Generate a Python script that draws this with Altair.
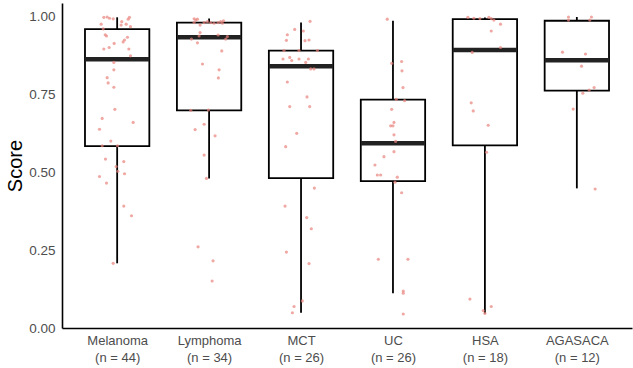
import altair as alt
import pandas as pd

# Tumour groups and their sample counts
groups = ["Melanoma", "Lymphoma", "MCT", "UC", "HSA", "AGASACA"]
counts = [44, 34, 26, 26, 18, 12]

# Box-plot summary per group
q1 = [0.585, 0.700, 0.482, 0.472, 0.587, 0.763]
median = [0.864, 0.935, 0.842, 0.594, 0.894, 0.861]
q3 = [0.961, 0.982, 0.892, 0.734, 0.993, 0.988]
whisker_lo = [0.208, 0.481, 0.049, 0.112, 0.047, 0.449]
whisker_hi = [0.999, 0.995, 0.982, 0.988, 0.998, 1.000]

# Individual scores per group, with their horizontal jitter (in category units)
melanoma_scores = [0.999, 1.000, 0.996, 0.994, 0.977, 0.962, 0.974, 0.977, 0.999, 0.993,
                   0.969, 0.943, 0.939, 0.926, 0.935, 0.897, 0.902, 0.915, 0.920, 0.897,
                   0.875, 0.854, 0.830, 0.805, 0.788, 0.774, 0.703, 0.674, 0.661, 0.639,
                   0.601, 0.586, 0.586, 0.543, 0.535, 0.519, 0.504, 0.496, 0.487, 0.466,
                   0.392, 0.361, 0.208, 0.985]
melanoma_jitter = [-0.145, -0.109, -0.083, -0.043, -0.174, -0.152, 0.043, 0.098, 0.134, 0.120,
                   0.145, -0.130, -0.116, 0.080, 0.112, -0.145, -0.087, -0.033, 0.065, 0.127,
                   0.145, -0.036, -0.036, -0.109, -0.098, -0.036, -0.025, -0.163, 0.174, -0.192,
                   -0.069, -0.163, 0.004, -0.127, 0.072, -0.011, 0.007, 0.080, -0.192, -0.116,
                   0.072, 0.156, -0.043, 0.050]

lymphoma_scores = [0.994, 0.990, 0.993, 0.982, 0.974, 0.982, 0.985, 0.982, 0.980, 0.982,
                   0.985, 0.988, 0.980, 0.950, 0.939, 0.942, 0.937, 0.929, 0.929, 0.917,
                   0.891, 0.849, 0.830, 0.804, 0.700, 0.701, 0.655, 0.638, 0.618, 0.556,
                   0.481, 0.261, 0.216, 0.151]
lymphoma_jitter = [-0.163, -0.145, -0.127, -0.163, -0.098, -0.054, -0.018, 0.018, 0.054, 0.098,
                   0.127, 0.156, 0.145, -0.098, -0.109, 0.098, 0.199, 0.181, -0.192, -0.127,
                   0.138, -0.072, 0.109, 0.101, -0.199, -0.007, -0.054, -0.152, 0.065, -0.054,
                   -0.029, -0.120, 0.043, 0.033]

mct_scores = [0.986, 0.960, 0.955, 0.943, 0.925, 0.924, 0.926, 0.892, 0.892, 0.892,
              0.870, 0.865, 0.860, 0.865, 0.865, 0.854, 0.833, 0.833, 0.791, 0.743,
              0.712, 0.712, 0.626, 0.583, 0.450, 0.392, 0.355, 0.319, 0.244, 0.207,
              0.087, 0.069, 0.049]
mct_jitter = [0.098, -0.069, 0.025, -0.149, -0.159, 0.043, 0.087, -0.185, -0.022, 0.178,
              -0.123, -0.196, -0.101, -0.022, 0.080, 0.051, 0.105, 0.141, -0.149, 0.065,
              -0.123, 0.094, -0.047, -0.167, 0.145, -0.174, 0.062, 0.112, -0.159, 0.087,
              0.014, -0.076, -0.094]

uc_scores = [0.993, 0.851, 0.857, 0.827, 0.773, 0.735, 0.731, 0.703, 0.661, 0.650,
             0.650, 0.621, 0.567, 0.551, 0.524, 0.492, 0.492, 0.485, 0.469, 0.435,
             0.221, 0.221, 0.119, 0.112, 0.045, 0.600]
uc_jitter = [-0.062, -0.014, 0.094, 0.098, 0.109, 0.036, 0.127, -0.014, 0.011, -0.025,
             0.000, 0.011, 0.011, -0.098, -0.196, -0.170, -0.134, 0.047, 0.022, 0.094,
             -0.159, 0.163, 0.112, 0.112, 0.112, 0.029]

hsa_scores = [0.999, 0.996, 0.995, 0.999, 0.995, 0.990, 0.977, 0.955, 0.902, 0.886,
              0.724, 0.698, 0.652, 0.565, 0.093, 0.069, 0.056, 0.047]
hsa_jitter = [-0.185, -0.120, -0.054, 0.043, 0.069, 0.098, 0.170, 0.069, 0.170, -0.138,
              -0.149, -0.127, 0.036, 0.018, -0.163, 0.069, -0.018, 0.000]

agasaca_scores = [1.000, 0.990, 1.000, 0.990, 0.887, 0.881, 0.842, 0.773, 0.765, 0.755,
                  0.704, 0.447]
agasaca_jitter = [-0.091, -0.091, 0.159, 0.141, -0.156, 0.094, 0.051, 0.188, 0.134, 0.065,
                  -0.040, 0.199]

scores = [melanoma_scores, lymphoma_scores, mct_scores, uc_scores, hsa_scores, agasaca_scores]
jitters = [melanoma_jitter, lymphoma_jitter, mct_jitter, uc_jitter, hsa_jitter, agasaca_jitter]

box_df = pd.DataFrame({
    "idx": list(range(1, len(groups) + 1)),
    "group": groups,
    "q1": q1, "median": median, "q3": q3,
    "lo": whisker_lo, "hi": whisker_hi,
})

rows = []
for i, (s, j) in enumerate(zip(scores, jitters), start=1):
    for v, d in zip(s, j):
        rows.append({"idx": i, "jit": d, "score": v})
pts_df = pd.DataFrame(rows)

label_lists = [[g, f"(n = {n})"] for g, n in zip(groups, counts)]
label_expr = str(label_lists).replace('"', "'") + "[datum.value - 1]"

x_scale = alt.Scale(domain=[0.4, 6.6], nice=False, zero=False)
y_scale = alt.Scale(domain=[0, 1.045], nice=False)

x_axis = alt.Axis(values=[1, 2, 3, 4, 5, 6], labelExpr=label_expr, title=None,
                  grid=False, ticks=False, labelPadding=6, labelLineHeight=17,
                  labelFontSize=13, labelColor="#4d4d4d", labelFont="Liberation Sans",
                  domainColor="black", domainWidth=1.6)
y_axis = alt.Axis(values=[0, 0.25, 0.5, 0.75, 1.0], format=".2f", title="Score",
                  grid=False, ticks=False, labelPadding=7,
                  labelFontSize=13.5, labelColor="#4d4d4d", labelFont="Liberation Sans",
                  titleFont="Liberation Sans", titleFontSize=20, titleFontWeight="normal",
                  titleColor="black", titlePadding=3,
                  domainColor="black", domainWidth=1.6)

base = alt.Chart(box_df)

whiskers = base.mark_rule(color="black", strokeWidth=1.8).encode(
    x=alt.X("idx:Q", scale=x_scale, axis=x_axis),
    y=alt.Y("lo:Q", scale=y_scale, axis=y_axis),
    y2="hi:Q",
)

boxes = base.transform_calculate(
    xl="datum.idx - 0.35", xr="datum.idx + 0.35"
).mark_rect(fill="white", stroke="black", strokeWidth=1.8).encode(
    x=alt.X("xl:Q", scale=x_scale),
    x2="xr:Q",
    y=alt.Y("q1:Q", scale=y_scale),
    y2="q3:Q",
)

medians = base.transform_calculate(
    xl="datum.idx - 0.35", xr="datum.idx + 0.35"
).mark_rule(color="#222222", strokeWidth=4.5).encode(
    x=alt.X("xl:Q", scale=x_scale),
    x2="xr:Q",
    y=alt.Y("median:Q", scale=y_scale),
)

points = alt.Chart(pts_df).transform_calculate(
    xp="datum.idx + datum.jit"
).mark_circle(size=10, color="#E8837C", opacity=0.7).encode(
    x=alt.X("xp:Q", scale=x_scale),
    y=alt.Y("score:Q", scale=y_scale),
)

chart = alt.layer(whiskers, boxes, medians, points).properties(
    width=570, height=325,
    autosize=alt.AutoSizeParams(type="none"),
    padding={"left": 62, "top": 3, "right": 1, "bottom": 40},
).configure_view(stroke=None)

chart.save("out.html", embed_options={"renderer": "svg", "actions": False})
